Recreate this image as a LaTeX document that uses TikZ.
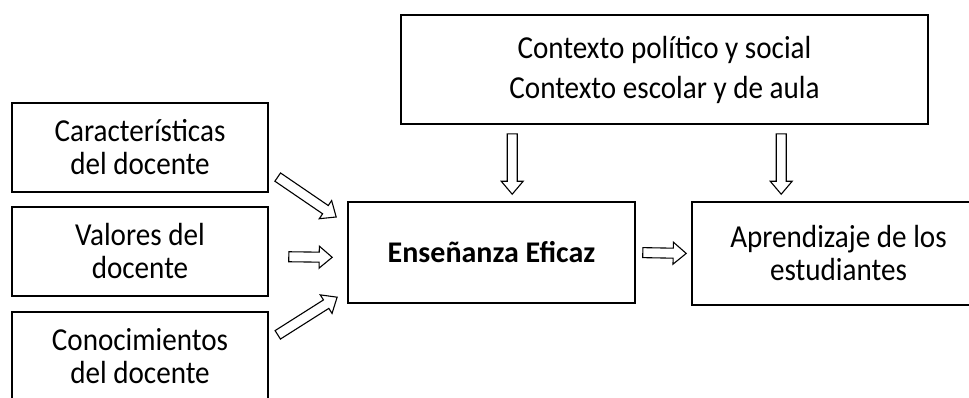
\documentclass[tikz,border=0pt]{standalone}
\usepackage{fontspec}
\setmainfont{Carlito}[FakeStretch=0.91]
\newfontfamily\boldfont{Carlito}
\usetikzlibrary{calc}
\begin{document}
\begin{tikzpicture}[x=1pt, y=-1pt,
  box/.style={draw, line width=1.6pt, align=center, inner sep=0pt,
    font=\fontsize{32}{33}\selectfont},
  blockarrow/.style 2 args={draw, line width=1.1pt, fill=white, to path={
    let \p1=(\tikztostart), \p2=(\tikztotarget),
        \n1={atan2(\y2-\y1,\x2-\x1)}, \n2={veclen(\x2-\x1,\y2-\y1)} in
    {[shift={(\p1)}, rotate=\n1]
      (#1pt,-5pt) -- (\n2-#2pt-13pt,-5pt) -- (\n2-#2pt-13pt,-11pt) -- (\n2-#2pt,0pt)
      -- (\n2-#2pt-13pt,11pt) -- (\n2-#2pt-13pt,5pt) -- (#1pt,5pt) -- cycle}
  }}]
\useasboundingbox (0,0) rectangle (969,397);
\clip (0,0) rectangle (969,397);
\node[box, minimum width=527, minimum height=109] (ctx) at (664.5,69.5){Contexto político y social\\[7pt]Contexto escolar y de aula};
\node[box, minimum width=256, minimum height=89] (car) at (140,147.5){Características\\del docente};
\node[box, minimum width=256, minimum height=89] (val) at (140,251.5){Valores del\\docente};
\node[box, minimum width=256, minimum height=89] (con) at (140,356.5){Conocimientos\\del docente};
\node[box, minimum width=287, minimum height=101, font=\boldfont\fontsize{30}{33}\selectfont\bfseries] (ens) at (491.5,252.5){Enseñanza Eficaz};
\node[box, minimum width=293, minimum height=103] (apr) at (838.5,253.5){Aprendizaje de los\\estudiantes};
\draw[blockarrow={10.8}{13.2}] ($(car.east)+(0,23.5)$) to ($(ens.west)+(0,-28)$);
\draw[blockarrow={20}{15}] ($(val.east)+(0,5)$) to ($(ens.west)+(0,5)$);
\draw[blockarrow={10.6}{11.8}] ($(con.east)+(0,-16)$) to ($(ens.west)+(0,38.3)$);
\draw[blockarrow={7}{5}] (ens.east) to (apr.west);
\draw[blockarrow={9}{7}] ($(ctx.south west)+(112,0)$) to ($(ens.north west)+(165,0)$);
\draw[blockarrow={9}{7}] ($(ctx.south west)+(381,0)$) to ($(apr.north west)+(90,0)$);
\end{tikzpicture}
\end{document}
